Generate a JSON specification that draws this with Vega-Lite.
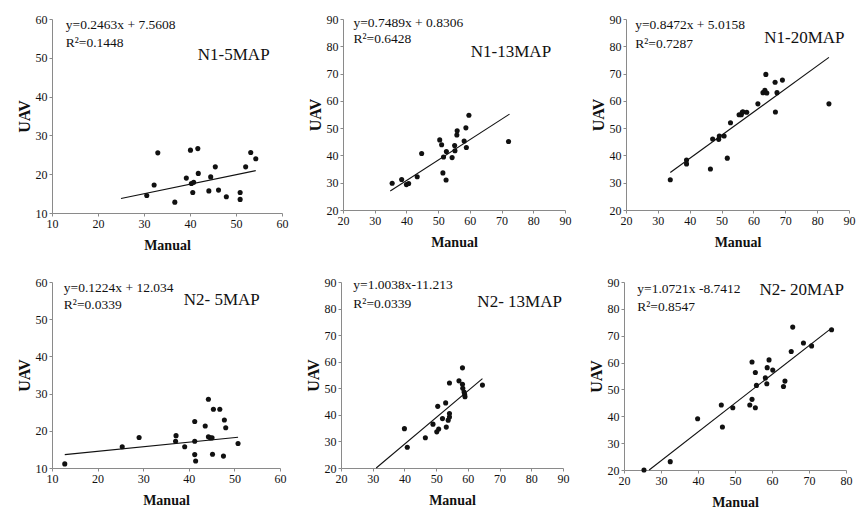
{
  "$schema": "https://vega.github.io/schema/vega-lite/v6.json",
  "background": "white",
  "padding": {"left": 16, "top": 13, "right": 4, "bottom": 4},
  "datasets": {
    "pts": [
      {"p": "A", "x": 30.6, "y": 14.5}, {"p": "A", "x": 32.2, "y": 17.2}, {"p": "A", "x": 33.0, "y": 25.5},
      {"p": "A", "x": 36.7, "y": 12.8}, {"p": "A", "x": 39.2, "y": 19.0}, {"p": "A", "x": 40.1, "y": 26.2},
      {"p": "A", "x": 40.3, "y": 17.6}, {"p": "A", "x": 40.8, "y": 17.9}, {"p": "A", "x": 40.6, "y": 15.3},
      {"p": "A", "x": 41.7, "y": 26.6}, {"p": "A", "x": 41.8, "y": 20.2}, {"p": "A", "x": 44.1, "y": 15.7},
      {"p": "A", "x": 44.5, "y": 19.3}, {"p": "A", "x": 45.5, "y": 21.9}, {"p": "A", "x": 46.2, "y": 15.9},
      {"p": "A", "x": 47.9, "y": 14.2}, {"p": "A", "x": 50.9, "y": 15.3}, {"p": "A", "x": 50.9, "y": 13.5},
      {"p": "A", "x": 52.1, "y": 21.9}, {"p": "A", "x": 53.2, "y": 25.6}, {"p": "A", "x": 54.3, "y": 24.0},

      {"p": "B", "x": 35.5, "y": 29.8}, {"p": "B", "x": 38.5, "y": 31.2}, {"p": "B", "x": 40.0, "y": 29.3},
      {"p": "B", "x": 40.7, "y": 29.7}, {"p": "B", "x": 43.4, "y": 32.2}, {"p": "B", "x": 44.8, "y": 40.7},
      {"p": "B", "x": 50.5, "y": 45.7}, {"p": "B", "x": 51.1, "y": 43.9}, {"p": "B", "x": 51.5, "y": 33.6},
      {"p": "B", "x": 51.7, "y": 39.4}, {"p": "B", "x": 52.5, "y": 31.0}, {"p": "B", "x": 52.6, "y": 41.4},
      {"p": "B", "x": 54.4, "y": 39.2}, {"p": "B", "x": 55.2, "y": 43.6}, {"p": "B", "x": 55.3, "y": 41.7},
      {"p": "B", "x": 55.9, "y": 47.5}, {"p": "B", "x": 56.0, "y": 49.0}, {"p": "B", "x": 58.2, "y": 45.3},
      {"p": "B", "x": 58.75, "y": 50.1}, {"p": "B", "x": 58.9, "y": 42.9}, {"p": "B", "x": 59.7, "y": 54.7},
      {"p": "B", "x": 72.2, "y": 45.1},

      {"p": "C", "x": 33.9, "y": 31.1}, {"p": "C", "x": 39.0, "y": 38.3}, {"p": "C", "x": 39.0, "y": 36.9},
      {"p": "C", "x": 46.5, "y": 35.0}, {"p": "C", "x": 47.2, "y": 46.0}, {"p": "C", "x": 49.1, "y": 45.9},
      {"p": "C", "x": 49.3, "y": 47.1}, {"p": "C", "x": 50.8, "y": 47.1}, {"p": "C", "x": 51.8, "y": 39.0},
      {"p": "C", "x": 52.8, "y": 52.0}, {"p": "C", "x": 55.5, "y": 54.9}, {"p": "C", "x": 56.2, "y": 54.9},
      {"p": "C", "x": 56.5, "y": 55.8}, {"p": "C", "x": 56.7, "y": 56.0}, {"p": "C", "x": 57.9, "y": 55.8},
      {"p": "C", "x": 61.4, "y": 58.9}, {"p": "C", "x": 63.0, "y": 63.0}, {"p": "C", "x": 63.6, "y": 63.9},
      {"p": "C", "x": 63.9, "y": 69.7}, {"p": "C", "x": 64.2, "y": 62.9}, {"p": "C", "x": 66.8, "y": 66.8},
      {"p": "C", "x": 66.9, "y": 55.9}, {"p": "C", "x": 67.4, "y": 63.0}, {"p": "C", "x": 69.1, "y": 67.6},
      {"p": "C", "x": 83.7, "y": 58.9},

      {"p": "D", "x": 12.8, "y": 11.1}, {"p": "D", "x": 25.4, "y": 15.7}, {"p": "D", "x": 29.1, "y": 18.2},
      {"p": "D", "x": 37.2, "y": 18.7}, {"p": "D", "x": 37.1, "y": 17.2}, {"p": "D", "x": 39.1, "y": 15.7},
      {"p": "D", "x": 41.3, "y": 22.5}, {"p": "D", "x": 41.3, "y": 17.2}, {"p": "D", "x": 41.3, "y": 13.6},
      {"p": "D", "x": 41.5, "y": 11.9}, {"p": "D", "x": 43.6, "y": 21.3}, {"p": "D", "x": 44.3, "y": 28.5},
      {"p": "D", "x": 44.3, "y": 18.4}, {"p": "D", "x": 44.7, "y": 18.1}, {"p": "D", "x": 45.1, "y": 18.1},
      {"p": "D", "x": 45.4, "y": 25.8}, {"p": "D", "x": 45.2, "y": 13.7}, {"p": "D", "x": 46.8, "y": 25.8},
      {"p": "D", "x": 47.6, "y": 13.2}, {"p": "D", "x": 47.8, "y": 22.9}, {"p": "D", "x": 48.1, "y": 20.8},
      {"p": "D", "x": 50.8, "y": 16.6},

      {"p": "E", "x": 40.0, "y": 34.8}, {"p": "E", "x": 40.9, "y": 27.8}, {"p": "E", "x": 46.6, "y": 31.4},
      {"p": "E", "x": 49.0, "y": 36.5}, {"p": "E", "x": 50.2, "y": 33.6}, {"p": "E", "x": 50.5, "y": 43.2},
      {"p": "E", "x": 50.8, "y": 34.7}, {"p": "E", "x": 52.0, "y": 38.6}, {"p": "E", "x": 53.0, "y": 44.5},
      {"p": "E", "x": 53.2, "y": 35.4}, {"p": "E", "x": 53.8, "y": 38.0}, {"p": "E", "x": 54.2, "y": 52.0},
      {"p": "E", "x": 54.2, "y": 40.5}, {"p": "E", "x": 54.2, "y": 39.2}, {"p": "E", "x": 57.2, "y": 52.8},
      {"p": "E", "x": 58.3, "y": 57.7}, {"p": "E", "x": 58.3, "y": 51.5}, {"p": "E", "x": 58.4, "y": 50.0},
      {"p": "E", "x": 58.8, "y": 48.6}, {"p": "E", "x": 59.0, "y": 47.6}, {"p": "E", "x": 59.1, "y": 46.8},
      {"p": "E", "x": 64.6, "y": 51.2},

      {"p": "F", "x": 25.4, "y": 20.0}, {"p": "F", "x": 32.5, "y": 23.1}, {"p": "F", "x": 39.9, "y": 39.1},
      {"p": "F", "x": 46.3, "y": 44.2}, {"p": "F", "x": 46.6, "y": 36.0}, {"p": "F", "x": 49.4, "y": 43.2},
      {"p": "F", "x": 54.0, "y": 44.2}, {"p": "F", "x": 54.6, "y": 60.2}, {"p": "F", "x": 54.6, "y": 46.3},
      {"p": "F", "x": 55.5, "y": 56.3}, {"p": "F", "x": 55.5, "y": 43.2}, {"p": "F", "x": 55.8, "y": 51.5},
      {"p": "F", "x": 58.2, "y": 54.3}, {"p": "F", "x": 58.6, "y": 52.1}, {"p": "F", "x": 58.7, "y": 58.1},
      {"p": "F", "x": 59.2, "y": 61.0}, {"p": "F", "x": 60.2, "y": 57.2}, {"p": "F", "x": 63.1, "y": 51.1},
      {"p": "F", "x": 63.5, "y": 53.1}, {"p": "F", "x": 65.2, "y": 64.1}, {"p": "F", "x": 65.6, "y": 73.2},
      {"p": "F", "x": 68.5, "y": 67.3}, {"p": "F", "x": 70.7, "y": 66.2}, {"p": "F", "x": 76.1, "y": 72.2}
    ],
    "fits": [
      {"p": "A", "x": 25.0, "y": 13.72}, {"p": "A", "x": 54.3, "y": 20.93},
      {"p": "B", "x": 34.9, "y": 26.97}, {"p": "B", "x": 72.5, "y": 55.13},
      {"p": "C", "x": 33.9, "y": 33.74}, {"p": "C", "x": 83.7, "y": 75.93},
      {"p": "D", "x": 12.8, "y": 13.60}, {"p": "D", "x": 50.8, "y": 18.25},
      {"p": "E", "x": 31.1, "y": 20.0}, {"p": "E", "x": 64.6, "y": 53.63},
      {"p": "F", "x": 26.8, "y": 20.0}, {"p": "F", "x": 76.1, "y": 72.84}
    ],
    "eqs": [
      {"p": "A", "x": 13.0, "y": 58.5, "t": "y=0.2463x + 7.5608"}, {"p": "A", "x": 13.0, "y": 53.7, "t": "R²=0.1448"},
      {"p": "B", "x": 23.3, "y": 88.4, "t": "y=0.7489x + 0.8306"}, {"p": "B", "x": 23.3, "y": 82.7, "t": "R²=0.6428"},
      {"p": "C", "x": 22.9, "y": 87.8, "t": "y=0.8472x + 5.0158"}, {"p": "C", "x": 22.9, "y": 81.0, "t": "R²=0.7287"},
      {"p": "D", "x": 12.6, "y": 58.4, "t": "y=0.1224x + 12.034"}, {"p": "D", "x": 12.6, "y": 53.7, "t": "R²=0.0339"},
      {"p": "E", "x": 23.9, "y": 88.7, "t": "y=1.0038x-11.213"}, {"p": "E", "x": 23.9, "y": 81.8, "t": "R²=0.0339"},
      {"p": "F", "x": 23.6, "y": 87.4, "t": "y=1.0721x -8.7412"}, {"p": "F", "x": 23.6, "y": 80.8, "t": "R²=0.8547"}
    ],
    "names": [
      {"p": "A", "x": 41.7, "y": 50.7, "t": "N1-5MAP"},
      {"p": "B", "x": 60.3, "y": 77.8, "t": "N1-13MAP"},
      {"p": "C", "x": 63.4, "y": 82.9, "t": "N1-20MAP"},
      {"p": "D", "x": 38.9, "y": 55.1, "t": "N2- 5MAP"},
      {"p": "E", "x": 63.0, "y": 82.5, "t": "N2- 13MAP"},
      {"p": "F", "x": 56.6, "y": 87.1, "t": "N2- 20MAP"}
    ]
  },
  "config": {
    "font": "Liberation Serif",
    "view": {"stroke": null},
    "axis": {
      "grid": false, "domainColor": "#8a8a8a", "tickColor": "#8a8a8a", "tickSize": 3,
      "labelColor": "#111", "labelFontSize": 12, "labelFont": "Liberation Serif", "labelPadding": 2,
      "labelOverlap": false, "labelFlush": false,
      "titleColor": "#111", "titleFontSize": 14, "titleFontWeight": "bold", "titleFont": "Liberation Serif"
    },
    "axisX": {"titlePadding": 9},
    "axisY": {"titlePadding": 3, "titleFontSize": 16},
    "text": {"font": "Liberation Serif", "color": "#111"}
  },
  "vconcat": [
    {
      "hconcat": [
        {
          "width": 230, "height": 194,
          "encoding": {
            "x": {"field": "x", "type": "quantitative", "scale": {"domain": [10, 60], "nice": false}, "axis": {"values": [10, 20, 30, 40, 50, 60], "labelOverlap": false, "title": "Manual"}},
            "y": {"field": "y", "type": "quantitative", "scale": {"domain": [10, 60], "nice": false}, "axis": {"values": [10, 20, 30, 40, 50, 60], "labelOverlap": false, "title": "UAV"}}
          },
          "layer": [
            {"data": {"name": "pts"}, "transform": [{"filter": "datum.p == 'A'"}], "mark": {"type": "circle", "color": "#111", "size": 26, "opacity": 1}},
            {"data": {"name": "fits"}, "transform": [{"filter": "datum.p == 'A'"}], "mark": {"type": "line", "color": "#111", "strokeWidth": 1.1}},
            {"data": {"name": "eqs"}, "transform": [{"filter": "datum.p == 'A'"}], "mark": {"type": "text", "align": "left", "baseline": "middle", "fontSize": 13.5}, "encoding": {"text": {"field": "t"}}},
            {"data": {"name": "names"}, "transform": [{"filter": "datum.p == 'A'"}], "mark": {"type": "text", "align": "left", "baseline": "middle", "fontSize": 17}, "encoding": {"text": {"field": "t"}}}
          ]
        },
        {
          "width": 222, "height": 191,
          "encoding": {
            "x": {"field": "x", "type": "quantitative", "scale": {"domain": [20, 90], "nice": false}, "axis": {"values": [20, 30, 40, 50, 60, 70, 80, 90], "labelOverlap": false, "title": "Manual"}},
            "y": {"field": "y", "type": "quantitative", "scale": {"domain": [20, 90], "nice": false}, "axis": {"values": [20, 30, 40, 50, 60, 70, 80, 90], "labelOverlap": false, "title": "UAV"}}
          },
          "layer": [
            {"data": {"name": "pts"}, "transform": [{"filter": "datum.p == 'B'"}], "mark": {"type": "circle", "color": "#111", "size": 26, "opacity": 1}},
            {"data": {"name": "fits"}, "transform": [{"filter": "datum.p == 'B'"}], "mark": {"type": "line", "color": "#111", "strokeWidth": 1.1}},
            {"data": {"name": "eqs"}, "transform": [{"filter": "datum.p == 'B'"}], "mark": {"type": "text", "align": "left", "baseline": "middle", "fontSize": 13.5}, "encoding": {"text": {"field": "t"}}},
            {"data": {"name": "names"}, "transform": [{"filter": "datum.p == 'B'"}], "mark": {"type": "text", "align": "left", "baseline": "middle", "fontSize": 17}, "encoding": {"text": {"field": "t"}}}
          ]
        },
        {
          "width": 223, "height": 191,
          "encoding": {
            "x": {"field": "x", "type": "quantitative", "scale": {"domain": [20, 90], "nice": false}, "axis": {"values": [20, 30, 40, 50, 60, 70, 80, 90], "labelOverlap": false, "title": "Manual"}},
            "y": {"field": "y", "type": "quantitative", "scale": {"domain": [20, 90], "nice": false}, "axis": {"values": [20, 30, 40, 50, 60, 70, 80, 90], "labelOverlap": false, "title": "UAV"}}
          },
          "layer": [
            {"data": {"name": "pts"}, "transform": [{"filter": "datum.p == 'C'"}], "mark": {"type": "circle", "color": "#111", "size": 26, "opacity": 1}},
            {"data": {"name": "fits"}, "transform": [{"filter": "datum.p == 'C'"}], "mark": {"type": "line", "color": "#111", "strokeWidth": 1.1}},
            {"data": {"name": "eqs"}, "transform": [{"filter": "datum.p == 'C'"}], "mark": {"type": "text", "align": "left", "baseline": "middle", "fontSize": 13.5}, "encoding": {"text": {"field": "t"}}},
            {"data": {"name": "names"}, "transform": [{"filter": "datum.p == 'C'"}], "mark": {"type": "text", "align": "left", "baseline": "middle", "fontSize": 17}, "encoding": {"text": {"field": "t"}}}
          ]
        }
      ],
      "spacing": 19
    },
    {
      "hconcat": [
        {
          "width": 228, "height": 186,
          "encoding": {
            "x": {"field": "x", "type": "quantitative", "scale": {"domain": [10, 60], "nice": false}, "axis": {"values": [10, 20, 30, 40, 50, 60], "labelOverlap": false, "title": "Manual"}},
            "y": {"field": "y", "type": "quantitative", "scale": {"domain": [10, 60], "nice": false}, "axis": {"values": [10, 20, 30, 40, 50, 60], "labelOverlap": false, "title": "UAV"}}
          },
          "layer": [
            {"data": {"name": "pts"}, "transform": [{"filter": "datum.p == 'D'"}], "mark": {"type": "circle", "color": "#111", "size": 26, "opacity": 1}},
            {"data": {"name": "fits"}, "transform": [{"filter": "datum.p == 'D'"}], "mark": {"type": "line", "color": "#111", "strokeWidth": 1.1}},
            {"data": {"name": "eqs"}, "transform": [{"filter": "datum.p == 'D'"}], "mark": {"type": "text", "align": "left", "baseline": "middle", "fontSize": 13.5}, "encoding": {"text": {"field": "t"}}},
            {"data": {"name": "names"}, "transform": [{"filter": "datum.p == 'D'"}], "mark": {"type": "text", "align": "left", "baseline": "middle", "fontSize": 17}, "encoding": {"text": {"field": "t"}}}
          ]
        },
        {
          "width": 222, "height": 186,
          "encoding": {
            "x": {"field": "x", "type": "quantitative", "scale": {"domain": [20, 90], "nice": false}, "axis": {"values": [20, 30, 40, 50, 60, 70, 80, 90], "labelOverlap": false, "title": "Manual"}},
            "y": {"field": "y", "type": "quantitative", "scale": {"domain": [20, 90], "nice": false}, "axis": {"values": [20, 30, 40, 50, 60, 70, 80, 90], "labelOverlap": false, "title": "UAV"}}
          },
          "layer": [
            {"data": {"name": "pts"}, "transform": [{"filter": "datum.p == 'E'"}], "mark": {"type": "circle", "color": "#111", "size": 26, "opacity": 1}},
            {"data": {"name": "fits"}, "transform": [{"filter": "datum.p == 'E'"}], "mark": {"type": "line", "color": "#111", "strokeWidth": 1.1}},
            {"data": {"name": "eqs"}, "transform": [{"filter": "datum.p == 'E'"}], "mark": {"type": "text", "align": "left", "baseline": "middle", "fontSize": 13.5}, "encoding": {"text": {"field": "t"}}},
            {"data": {"name": "names"}, "transform": [{"filter": "datum.p == 'E'"}], "mark": {"type": "text", "align": "left", "baseline": "middle", "fontSize": 17}, "encoding": {"text": {"field": "t"}}}
          ]
        },
        {
          "width": 222, "height": 188,
          "encoding": {
            "x": {"field": "x", "type": "quantitative", "scale": {"domain": [20, 80], "nice": false}, "axis": {"values": [20, 30, 40, 50, 60, 70, 80], "labelOverlap": false, "title": "Manual"}},
            "y": {"field": "y", "type": "quantitative", "scale": {"domain": [20, 90], "nice": false}, "axis": {"values": [20, 30, 40, 50, 60, 70, 80, 90], "labelOverlap": false, "title": "UAV"}}
          },
          "layer": [
            {"data": {"name": "pts"}, "transform": [{"filter": "datum.p == 'F'"}], "mark": {"type": "circle", "color": "#111", "size": 26, "opacity": 1}},
            {"data": {"name": "fits"}, "transform": [{"filter": "datum.p == 'F'"}], "mark": {"type": "line", "color": "#111", "strokeWidth": 1.1}},
            {"data": {"name": "eqs"}, "transform": [{"filter": "datum.p == 'F'"}], "mark": {"type": "text", "align": "left", "baseline": "middle", "fontSize": 13.5}, "encoding": {"text": {"field": "t"}}},
            {"data": {"name": "names"}, "transform": [{"filter": "datum.p == 'F'"}], "mark": {"type": "text", "align": "left", "baseline": "middle", "fontSize": 17}, "encoding": {"text": {"field": "t"}}}
          ]
        }
      ],
      "spacing": 19
    }
  ],
  "spacing": 24
}
